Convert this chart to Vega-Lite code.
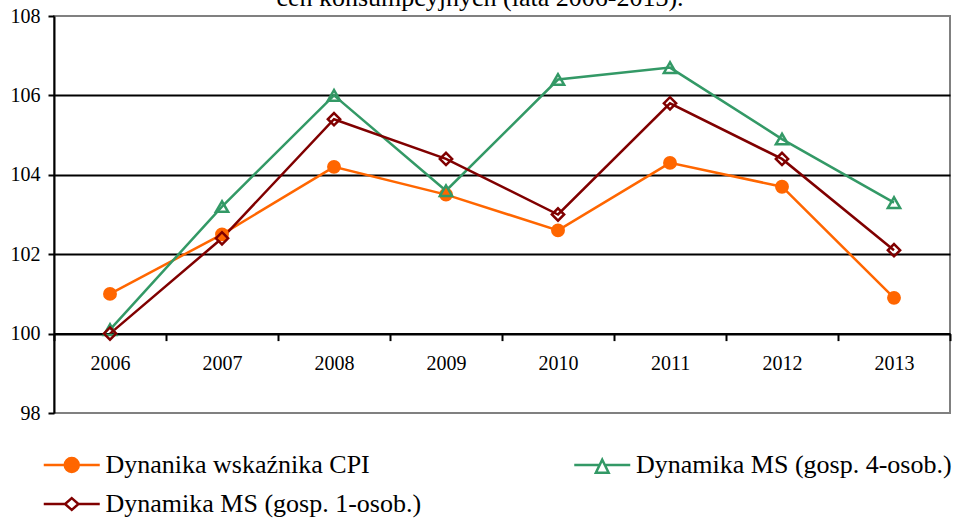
{
  "$schema": "https://vega.github.io/schema/vega-lite/v6.json",
  "width": 896,
  "height": 397,
  "autosize": "none",
  "padding": {"left": 54, "top": 16, "right": 10, "bottom": 105},
  "background": "white",
  "title": {"text": "cen konsumpcyjnych (lata 2006-2013).", "font": "Liberation Serif", "fontSize": 26, "fontWeight": "normal", "color": "black", "anchor": "middle", "frame": "group", "dx": -22, "offset": -26, "baseline": "alphabetic"},
  "config": {"view": {"stroke": "#808080", "strokeWidth": 2}, "font": "Liberation Serif"},
  "data": {"values": [
    {"year": "2006", "series": "Dynanika wskaźnika CPI", "value": 101.0},
    {"year": "2007", "series": "Dynanika wskaźnika CPI", "value": 102.5},
    {"year": "2008", "series": "Dynanika wskaźnika CPI", "value": 104.2},
    {"year": "2009", "series": "Dynanika wskaźnika CPI", "value": 103.5},
    {"year": "2010", "series": "Dynanika wskaźnika CPI", "value": 102.6},
    {"year": "2011", "series": "Dynanika wskaźnika CPI", "value": 104.3},
    {"year": "2012", "series": "Dynanika wskaźnika CPI", "value": 103.7},
    {"year": "2013", "series": "Dynanika wskaźnika CPI", "value": 100.9},
    {"year": "2006", "series": "Dynamika MS (gosp. 4-osob.)", "value": 100.1},
    {"year": "2007", "series": "Dynamika MS (gosp. 4-osob.)", "value": 103.2},
    {"year": "2008", "series": "Dynamika MS (gosp. 4-osob.)", "value": 106.0},
    {"year": "2009", "series": "Dynamika MS (gosp. 4-osob.)", "value": 103.6},
    {"year": "2010", "series": "Dynamika MS (gosp. 4-osob.)", "value": 106.4},
    {"year": "2011", "series": "Dynamika MS (gosp. 4-osob.)", "value": 106.7},
    {"year": "2012", "series": "Dynamika MS (gosp. 4-osob.)", "value": 104.9},
    {"year": "2013", "series": "Dynamika MS (gosp. 4-osob.)", "value": 103.3},
    {"year": "2006", "series": "Dynamika MS (gosp. 1-osob.)", "value": 100.0},
    {"year": "2007", "series": "Dynamika MS (gosp. 1-osob.)", "value": 102.4},
    {"year": "2008", "series": "Dynamika MS (gosp. 1-osob.)", "value": 105.4},
    {"year": "2009", "series": "Dynamika MS (gosp. 1-osob.)", "value": 104.4},
    {"year": "2010", "series": "Dynamika MS (gosp. 1-osob.)", "value": 103.0},
    {"year": "2011", "series": "Dynamika MS (gosp. 1-osob.)", "value": 105.8},
    {"year": "2012", "series": "Dynamika MS (gosp. 1-osob.)", "value": 104.4},
    {"year": "2013", "series": "Dynamika MS (gosp. 1-osob.)", "value": 102.1}
  ]},
  "encoding": {
    "x": {"field": "year", "type": "ordinal", "scale": {"type": "band", "paddingInner": 0, "paddingOuter": 0},
      "axis": {"orient": "bottom", "offset": -79.4, "tickBand": "extent", "labelAngle": 0, "labelFont": "Liberation Serif", "labelFontSize": 20, "labelColor": "black", "labelPadding": 13, "domainColor": "black", "domainWidth": 2, "tickColor": "black", "tickWidth": 2, "tickSize": 7, "title": null, "grid": false}},
    "y": {"field": "value", "type": "quantitative", "scale": {"domain": [98, 108], "nice": false, "zero": false},
      "axis": {"values": [98, 100, 102, 104, 106, 108], "labelFont": "Liberation Serif", "labelFontSize": 20, "labelColor": "black", "labelPadding": 8, "domainColor": "black", "domainWidth": 2, "tickColor": "black", "tickWidth": 2, "tickSize": 6, "title": null, "grid": true, "gridColor": "black", "gridWidth": 2, "gridOpacity": {"condition": {"test": "datum.value <= 98 || datum.value >= 108", "value": 0}, "value": 1}}},
    "stroke": {"field": "series", "type": "nominal",
      "scale": {"domain": ["Dynanika wskaźnika CPI", "Dynamika MS (gosp. 4-osob.)", "Dynamika MS (gosp. 1-osob.)"], "range": ["#FF6600", "#339966", "#800000"]},
      "legend": {"orient": "none", "legendX": 4.75, "legendY": 436, "direction": "horizontal", "columns": 2, "title": null, "labelFont": "Liberation Serif", "labelFontSize": 26, "labelColor": "black", "symbolSize": 400, "symbolStrokeWidth": 2.5, "columnPadding": 147.5, "rowPadding": 13, "labelOffset": 20.75, "labelLimit": 0, "padding": 0,
        "encode": {"symbols": {"update": {
          "shape": {"signal": "datum.value === 'Dynanika wskaźnika CPI' ? 'M-2.8,0H2.8M-0.7,0A0.7,0.7 0 1,0 0.7,0A0.7,0.7 0 1,0 -0.7,0Z' : datum.value === 'Dynamika MS (gosp. 4-osob.)' ? 'M-2.8,0H-0.25M0.25,0H2.8M0,-0.53L0.64,0.78L-0.64,0.78Z' : 'M-2.8,0H-0.67M0.67,0H2.8M0,-0.59L0.67,0L0,0.59L-0.67,0Z'"},
          "fill": {"signal": "datum.value === 'Dynanika wskaźnika CPI' ? '#FF6600' : 'transparent'"},
          "strokeWidth": {"value": 2.5},
          "opacity": {"value": 1}
        }}}}}
  },
  "layer": [
    {"mark": {"type": "line", "strokeWidth": 2.5}},
    {"mark": {"type": "point", "strokeWidth": 2.5, "opacity": 1},
      "encoding": {
        "shape": {"condition": [{"test": "datum.series === 'Dynanika wskaźnika CPI'", "value": "circle"}, {"test": "datum.series === 'Dynamika MS (gosp. 4-osob.)'", "value": "triangle-up"}], "value": "diamond"},
        "fill": {"condition": {"test": "datum.series === 'Dynanika wskaźnika CPI'", "value": "#FF6600"}, "value": "transparent"},
        "size": {"condition": {"test": "datum.series === 'Dynanika wskaźnika CPI'", "value": 130}, "value": 150}
      }}
  ]
}
